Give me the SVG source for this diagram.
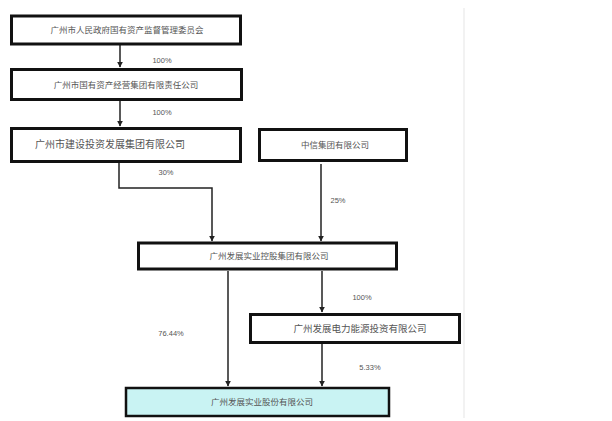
<svg xmlns="http://www.w3.org/2000/svg" width="612" height="421" viewBox="0 0 612 421">
<style>
.box{fill:#fff;stroke:#111;stroke-width:3}
.t{font-family:"Liberation Sans","Noto Sans CJK SC",sans-serif;font-size:8.5px;fill:#555;text-anchor:middle}
.p{font-family:"Liberation Sans","Noto Sans CJK SC",sans-serif;font-size:7.5px;fill:#555;text-anchor:middle}
.c{fill:none;stroke:#222;stroke-width:1.5}
</style>
<defs>
<marker id="a" viewBox="0 0 10 10" refX="9" refY="5" markerWidth="4" markerHeight="4" orient="auto"><path d="M0,0L10,5L0,10z" fill="#222"/></marker>
</defs>
<rect x="0" y="0" width="612" height="421" fill="#fff"/>
<line x1="464" y1="8" x2="464" y2="418" stroke="#f2f2f2" stroke-width="2"/>
<g id="connectors">
<path class="c" d="M120,45V67" marker-end="url(#a)"/>
<path class="c" d="M120,101V126" marker-end="url(#a)"/>
<path class="c" d="M119,163V188H212V241" marker-end="url(#a)"/>
<path class="c" d="M321,164V241" marker-end="url(#a)"/>
<path class="c" d="M228,271V386" marker-end="url(#a)"/>
<path class="c" d="M322,271V312" marker-end="url(#a)"/>
<path class="c" d="M322,344V386" marker-end="url(#a)"/>
<text class="p" x="162" y="63">100%</text>
<text class="p" x="162" y="115">100%</text>
<text class="p" x="166" y="175">30%</text>
<text class="p" x="338" y="203">25%</text>
<text class="p" x="362" y="300">100%</text>
<text class="p" x="171" y="336">76.44%</text>
<text class="p" x="370" y="370">5.33%</text>
</g>
<g id="n1"><rect class="box" x="11.5" y="16" width="229" height="28" stroke-width="2.5"/><text class="t" x="127" y="33">广州市人民政府国有资产监督管理委员会</text></g>
<g id="n2"><rect class="box" x="11.5" y="69.5" width="230" height="30"/><text class="t" x="126" y="88">广州市国有资产经营集团有限责任公司</text></g>
<g id="n3"><rect class="box" x="11.5" y="128.5" width="229" height="33"/><text class="t" x="35" y="148" style="text-anchor:start;font-size:10px">广州市建设投资发展集团有限公司</text></g>
<g id="n4"><rect class="box" x="259.5" y="129.5" width="147" height="31" stroke-width="5"/><text class="t" x="335" y="148">中信集团有限公司</text></g>
<g id="n5"><rect class="box" x="138.5" y="243" width="258" height="26" stroke-width="2.5"/><text class="t" x="269" y="259">广州发展实业控股集团有限公司</text></g>
<g id="n6"><rect class="box" x="250.5" y="314.5" width="209" height="28"/><text class="t" x="360" y="332" style="font-size:9.5px">广州发展电力能源投资有限公司</text></g>
<g id="n7"><rect x="126" y="388" width="263" height="28" fill="#c9f3f3" stroke="#111" stroke-width="2.5"/><text class="t" x="262" y="405">广州发展实业股份有限公司</text></g>
</svg>
